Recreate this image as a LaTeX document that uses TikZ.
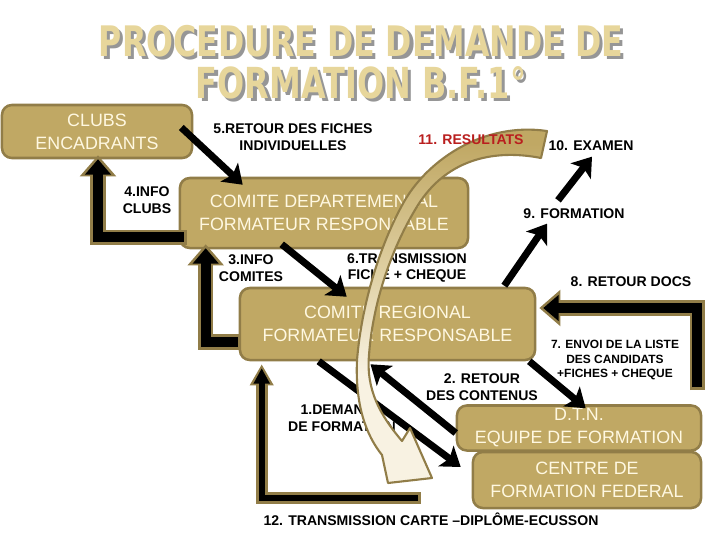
\documentclass[tikz,border=0pt]{standalone}
\usepackage{fontspec}
\setmainfont{Liberation Sans}
\newfontfamily\titlefont{DejaVu Sans}
\usetikzlibrary{arrows.meta,calc}
\definecolor{boxtan}{RGB}{192,168,100}
\definecolor{boxedge}{RGB}{145,125,72}
\definecolor{boxtext}{RGB}{255,248,225}
\definecolor{titletan}{RGB}{231,214,155}
\definecolor{titleshadow}{RGB}{150,150,150}
\definecolor{resred}{RGB}{185,30,30}
\definecolor{cream}{RGB}{248,242,226}
\definecolor{arcmid}{RGB}{222,206,160}
\pgfdeclareverticalshading{arcshade}{100bp}{color(0bp)=(cream); color(40bp)=(cream); color(55bp)=(arcmid); color(72bp)=(boxtan); color(100bp)=(boxtan)}
\newcommand\ombre[3]{\rlap{\kern2.2pt\raisebox{-2.2pt}{\textcolor{titleshadow}{\resizebox{#1}{#2}{\titlefont\bfseries #3}}}}%
  \textcolor{titletan}{\resizebox{#1}{#2}{\titlefont\bfseries #3}}}
\tikzset{
  box/.style={draw=boxedge, line width=1.8pt, fill=boxtan, rounded corners=7pt,
    inner sep=0pt, align=center, text=boxtext, font=\fontsize{12.7}{16.4}\selectfont},
  lbl/.style={font=\bfseries\fontsize{10}{12}\selectfont, align=center, inner sep=1pt},
  flow/.style={line width=5pt, -{Stealth[length=13pt,width=18pt,inset=3pt]}},
  lrim/.style={draw=boxedge, line width=11pt, -{Triangle[length=15pt,width=25pt]}},
  lcore/.style={draw=black, line width=7pt, -{Triangle[length=11pt,width=18pt]},
    shorten >=2.8pt, shorten <=2pt},
  lrimthin/.style={draw=boxedge, line width=8.5pt, -{Triangle[length=15pt,width=16pt]}},
  lcorethin/.style={draw=black, line width=4.5pt, -{Triangle[length=11pt,width=11pt]},
    shorten >=2.8pt, shorten <=2pt},
}
\begin{document}
\begin{tikzpicture}[x=0.025cm,y=-0.025cm]
\useasboundingbox (0,0) rectangle (720,540);
% titre avec ombre
\node[inner sep=0pt] (titre1) at (361,43) {\ombre{13.1cm}{0.78cm}{PROCEDURE DE DEMANDE DE}};
\node[inner sep=0pt] (titre2) at (361,84) {\ombre{8.25cm}{0.8cm}{FORMATION B.F.1°}};
% boites: nom / x / y / largeur / hauteur / texte
\foreach \n/\x/\y/\w/\h/\t in {clubs/97/131.5/4.75/1.325/CLUBS\\ENCADRANTS,
    cdep/324/213/7.2/1.75/COMITE DEPARTEMENTAL\\FORMATEUR RESPONSABLE,
    creg/387.5/324/7.375/1.8/COMITE REGIONAL\\FORMATEUR RESPONSABLE,
    dtn/579/428/6.1/1.125/D.T.N.\\EQUIPE DE FORMATION,
    cff/587/480/5.7/1.4/CENTRE DE\\FORMATION FEDERAL}
  \node[box, minimum width=\w cm, minimum height=\h cm] (\n) at (\x,\y) {\t};
% etiquettes
\node[lbl] (l5) at (293,137) {5.RETOUR DES FICHES\\INDIVIDUELLES};
\node[lbl] (l4) at (147,200) {4.INFO\\CLUBS};
\node[lbl] (l3) at (251,268) {3.INFO\\COMITES};
\node[lbl] (l6) at (407,268) {6.TRANSMISSION\\FICHE + CHEQUE};
\node[lbl] (l9) at (574,214) {9. FORMATION};
\node[lbl] (l10) at (591,146) {10. EXAMEN};
\node[lbl] (l8) at (631,282) {8. RETOUR DOCS};
\node[lbl, font=\bfseries\fontsize{8.5}{10.3}\selectfont] (l7) at (615,360) {7. ENVOI DE LA LISTE\\DES CANDIDATS\\+FICHES + CHEQUE};
\node[lbl] (l2) at (482,387) {2. RETOUR\\DES CONTENUS};
\node[lbl] (l1) at (342,418) {1.DEMANDE\\DE FORMATION};
\node[lbl] (l12) at (431,519) {12. TRANSMISSION CARTE –DIPLÔME-ECUSSON};
% fleches coudees
\coordinate (fin12) at ($(cff.west)+(-51,18)$);
\draw[lrim] ($(cdep.south west)+(8,-12)$) -| ($(clubs.south)+(1,-4)$);
\draw[lcore] ($(cdep.south west)+(8,-12)$) -| ($(clubs.south)+(1,-4)$);
\draw[lrim] ($(creg.west)+(2,18)$) -| ($(cdep.south west)+(27,-5)$);
\draw[lcore] ($(creg.west)+(2,18)$) -| ($(cdep.south west)+(27,-5)$);
\draw[lrim] ($(dtn.north east)+(-5,-14)$) |- ($(creg.east)+(3,-16)$);
\draw[lcore] ($(dtn.north east)+(-5,-14)$) |- ($(creg.east)+(3,-16)$);
\draw[lrimthin] (fin12) -| ($(creg.south west)+(23,3)$);
\draw[lcorethin] (fin12) -| ($(creg.south west)+(23,3)$);
% fleches droites
\draw[flow] ($(clubs.east)+(-12,-4)$) -- ($(cdep.north west)+(64,8)$);
\draw[flow] ($(cdep.south west)+(103,-5)$) -- ($(creg.north west)+(108,10)$);
\draw[flow] ($(creg.north east)+(-32,-1)$) -- ($(l9.south)+(-27,3)$);
\draw[flow] ($(l9.north)+(-16,-7)$) -- ($(l10.south)+(1,4)$);
\draw[flow] ($(creg.south east)+(-7,0)$) -- ($(dtn.north west)+(130,4)$);
\draw[flow] ($(creg.south west)+(80,0)$) -- ($(cff.west)+(-11,-13)$);
% 11: grande fleche courbe
\path[draw=boxedge, line width=1.5pt, shading=arcshade, line join=round]
  (547,131) .. controls (485,122) and (430,158) .. (405,200)
  .. controls (382,240) and (362,300) .. (357,360)
  .. controls (355,405) and (366,435) .. (382,455)
  -- (388,483) -- (432,478) -- (410,428) -- (402,441)
  .. controls (380,415) and (366,390) .. (369,355)
  .. controls (373,300) and (393,245) .. (418,205)
  .. controls (445,162) and (490,148) .. (541,158) -- cycle;
\draw[flow] ($(dtn.west)+(0,5)$) -- ($(creg.south)+(-17,3)$);
\node[lbl, text=resred] (l11) at (471,140) {11. RESULTATS};
\end{tikzpicture}
\end{document}
